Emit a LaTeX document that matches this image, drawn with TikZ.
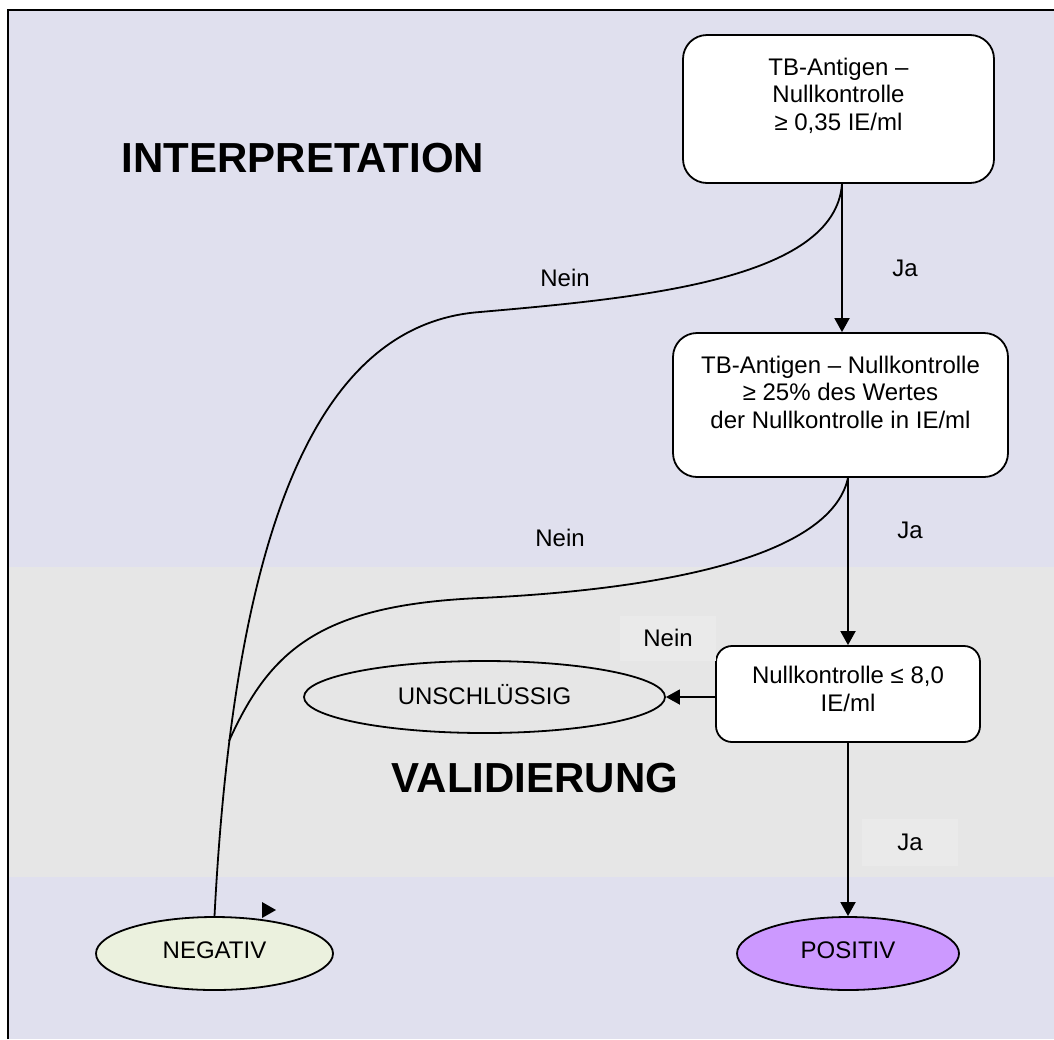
\documentclass[tikz,border=0pt]{standalone}
\usepackage{fontspec}
\setmainfont{Liberation Sans}
\usetikzlibrary{shapes.geometric,arrows.meta,calc}
\definecolor{lav}{RGB}{224,224,238}
\definecolor{gry}{RGB}{230,230,230}
\definecolor{lblc}{RGB}{234,234,234}
\definecolor{negc}{RGB}{235,241,222}
\definecolor{posc}{RGB}{204,153,255}
\begin{document}
\begin{tikzpicture}[x=1pt,y=-1pt,line width=1.8pt,
  every node/.style={font=\fontsize{24}{27.6}\selectfont},
  box/.style={draw,fill=white,rounded corners=#1,inner sep=0pt},
  ell/.style={draw,ellipse,inner sep=0pt},
  lbl/.style={inner sep=0pt},
  lblbox/.style={fill=lblc,inner sep=0pt},
  title/.style={font=\bfseries\fontsize{42}{48}\selectfont},
  arr/.style={-{Triangle[length=14pt,width=15pt]}}]
% canvas
\useasboundingbox (0,0) rectangle (1054,1039);
\fill[white] (0,0) rectangle (1054,1039);
\fill[lav] (8,10) rectangle (1054,567);
\fill[gry] (8,567) rectangle (1054,877);
\fill[lav] (8,877) rectangle (1054,1039);
\draw[line width=2.5pt] (8,1039) -- (8,10) -- (1054,10);
% titles
\node[title] (t1) at (303,158) {INTERPRETATION};
\node[title] (t2) at (535,778) {VALIDIERUNG};
% boxes
\node[box=24pt] (b1) at (838.5,109) {\parbox[c][148pt][t]{311pt}{\centering\vspace{23pt}TB-Antigen –\\Nullkontrolle\\≥ 0,35 IE/ml}};
\node[box=24pt] (b2) at (840.5,405) {\parbox[c][144pt][t]{335pt}{\centering\vspace{23pt}TB-Antigen – Nullkontrolle\\≥ 25\% des Wertes\\ der Nullkontrolle in IE/ml}};
\node[box=16pt] (b3) at (848,694) {\parbox[c][96pt][t]{264pt}{\centering\vspace{20pt}Nullkontrolle ≤ 8,0\\IE/ml}};
% ellipses
\node[ell,fill=gry,minimum width=361pt,minimum height=72pt] (uns) at (484.5,697) {\raisebox{5pt}{UNSCHLÜSSIG}};
\node[ell,fill=negc,minimum width=237pt,minimum height=73pt] (neg) at (214.5,953.5) {\raisebox{6pt}{NEGATIV}};
\node[ell,fill=posc,minimum width=222pt,minimum height=73pt] (pos) at (848,953.5) {\raisebox{6pt}{POSITIV}};
% labels
\node[lbl] (n1) at (565,278) {Nein};
\node[lbl] (j1) at (905,268) {Ja};
\node[lbl] (n2) at (560,538) {Nein};
\node[lbl] (j2) at (910,530) {Ja};
\node[lblbox,minimum width=96pt,minimum height=45pt] (n3) at (668,638) {Nein};
\node[lblbox,minimum width=96pt,minimum height=47pt] (j3) at (910,842) {Ja};
% connectors
\draw[arr] ($(b1.south)+(3.5,0)$) coordinate (s1) -- (s1 |- b2.north);
\draw (s1) .. controls (835,280) and (640,298) .. (480,312) .. controls (320,324) and (235,520) .. (neg.north);
\draw[arr] (b3.north |- b2.south) coordinate (s2) -- (b3.north);
\coordinate (m) at (229,741);
\draw (s2) .. controls (830,560) and (650,590) .. (480,598) .. controls (320,605) and (270,650) .. (m);
\draw[arr] (b3.west |- uns.east) -- (uns.east);
\draw[arr] (b3.south) -- (pos.north);
% stray arrowhead
\fill (262,902) -- (276,910) -- (262,918) -- cycle;
\end{tikzpicture}
\end{document}
